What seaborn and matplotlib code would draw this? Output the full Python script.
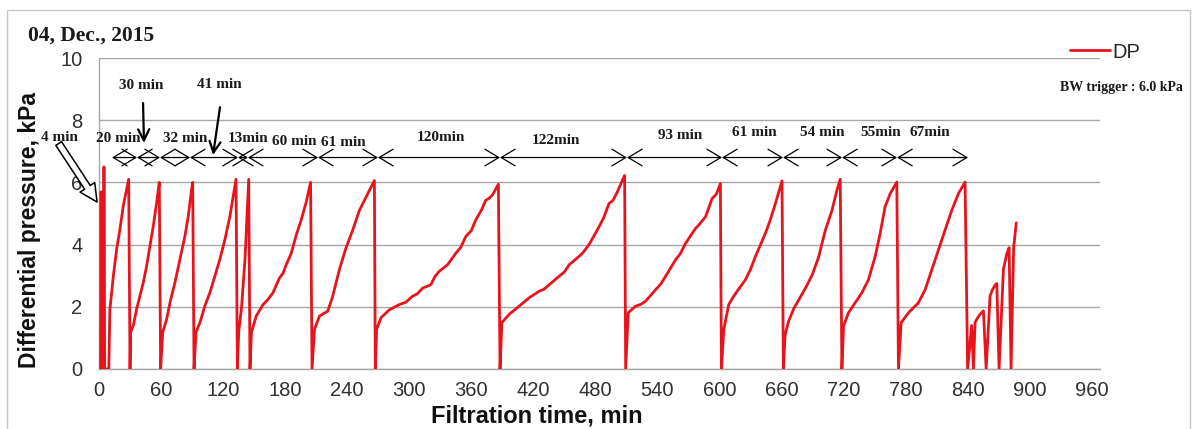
import numpy as np
import pandas as pd
import seaborn as sns
import matplotlib
matplotlib.use("Agg")
import matplotlib.pyplot as plt
from matplotlib.lines import Line2D
from matplotlib.patches import Rectangle

# ---------------- data ----------------
# Differential pressure log (filtration time in min, DP in kPa)
time_min = [
    1.5, 2.0, 2.6, 4.3, 4.8, 5.5, 9.5, 10.5,
    13.9, 17.1, 20.3, 23.5, 26.8, 28.7, 30.0,
    30.6, 33.2, 36.4, 39.7, 42.9, 46.1, 49.3, 52.5, 55.8, 58.3, 59.6,
    61.6, 65.4, 68.7, 73.5, 78.3, 83.2, 86.4, 89.6, 90.6, 91.9,
    93.8, 97.7, 102.5, 107.4, 112.2, 117.0, 121.9, 126.7, 129.9, 132.5, 133.8,
    135.1, 138.0, 141.2, 143.5, 144.8, 146.0,
    147.4, 152.0, 158.6, 163.0, 168.2, 174.6, 178.0, 181.0, 185.9, 190.7, 195.6, 200.4, 204.6, 206.0,
    208.4, 213.2, 217.0, 221.2, 226.0, 232.5, 238.9, 245.4, 251.8, 258.3, 264.7, 266.3, 267.2,
    268.5, 272.7, 280.7, 290.4, 296.8, 303.2, 308.0, 312.9, 320.9, 325.0, 329.0, 337.0, 345.0,
    350.0, 354.7, 360.0, 364.3, 370.0, 374.0, 377.0, 380.4, 386.2, 387.8,
    389.6, 396.7, 406.3, 416.0, 425.6, 430.0, 435.3, 444.9, 450.0, 454.6, 464.2, 468.0, 473.9,
    483.5, 488.0, 493.2, 497.0, 501.2, 506.0, 508.3, 509.3,
    511.8, 518.9, 524.0, 528.6, 538.2, 543.0, 547.9, 557.5, 562.0, 567.2, 576.8, 580.0,
    586.5, 592.9, 597.0, 600.9, 601.9,
    604.2, 609.0, 613.0, 617.1, 625.1, 630.0, 634.8, 644.4, 649.0, 654.1, 657.3, 660.5, 661.8,
    663.5, 667.0, 672.0, 678.0, 684.0, 690.0, 695.9, 702.3, 708.8, 713.6, 716.8, 718.4,
    720.0, 724.8, 731.3, 737.7, 744.1, 750.6, 755.4, 760.2, 765.1, 771.5, 773.1,
    775.7, 782.8, 792.4, 798.9, 805.3, 811.7, 818.2, 824.6, 831.1, 837.5, 840.0,
    843.9, 845.6, 847.2, 851.0, 855.3, 857.9, 861.7, 864.0, 866.6, 868.2, 870.4,
    874.6, 877.8, 880.1, 882.0, 884.5, 887.0,
]
dp_kpa = [
    0.0, 5.70, 0.0, 0.0, 6.50, 0.0, 0.0, 1.90,
    3.00, 3.86, 4.50, 5.25, 5.80, 6.10, 0.0,
    1.18, 1.40, 1.93, 2.36, 2.79, 3.32, 3.97, 4.60, 5.36, 6.00, 0.0,
    1.18, 1.60, 2.14, 2.79, 3.54, 4.29, 4.93, 5.79, 6.00, 0.0,
    1.18, 1.50, 2.04, 2.47, 3.00, 3.54, 4.18, 4.93, 5.57, 6.10, 0.0,
    1.18, 2.04, 3.54, 5.14, 6.10, 0.0,
    1.17, 1.70, 2.07, 2.22, 2.45, 2.93, 3.08, 3.35, 3.72, 4.30, 4.80, 5.37, 6.00, 0.0,
    1.28, 1.70, 1.78, 1.86, 2.34, 3.20, 3.90, 4.47, 5.10, 5.53, 5.96, 6.06, 0.0,
    1.28, 1.65, 1.90, 2.07, 2.15, 2.34, 2.42, 2.60, 2.71, 2.98, 3.14, 3.35, 3.72,
    3.92, 4.26, 4.45, 4.79, 5.12, 5.43, 5.48, 5.59, 5.94, 0.0,
    1.49, 1.76, 2.02, 2.29, 2.50, 2.56, 2.71, 2.98, 3.12, 3.35, 3.62, 3.74, 4.00,
    4.57, 4.86, 5.32, 5.42, 5.69, 6.06, 6.22, 0.0,
    1.81, 2.02, 2.08, 2.18, 2.55, 2.72, 2.98, 3.51, 3.70, 4.04, 4.52, 4.63,
    4.89, 5.48, 5.62, 5.96, 0.0,
    1.28, 2.07, 2.30, 2.50, 2.87, 3.20, 3.62, 4.36, 4.78, 5.32, 5.69, 6.05, 0.0,
    1.10, 1.55, 1.95, 2.30, 2.65, 3.05, 3.60, 4.45, 5.10, 5.75, 6.10, 0.0,
    1.38, 1.81, 2.13, 2.45, 2.87, 3.62, 4.36, 5.22, 5.64, 6.01, 0.0,
    1.49, 1.81, 2.13, 2.55, 3.19, 3.83, 4.47, 5.10, 5.64, 6.01, 0.0,
    1.40, 0.0, 1.50, 1.72, 1.87, 0.0, 2.35, 2.55, 2.70, 2.75, 0.0,
    3.20, 3.70, 3.90, 0.0, 3.90, 4.70,
]

# Backwash interval arrows: boundaries (min) and their labels
interval_edges = [12.6, 36.8, 59.0, 88.0, 134.4, 144.0, 211.8, 269.8,
                  387.8, 510.6, 602.5, 661.5, 718.6, 771.8, 840.4]
interval_labels = ["20 min", "30 min", "32 min", "41 min", "13min", "60 min",
                   "61 min", "120min", "122min", "93 min", "61 min", "54 min",
                   "55min", "67min"]

x_ticks = list(range(0, 961, 60))
y_ticks = [0, 2, 4, 6, 8, 10]

# ---------------- style ----------------
sns.set_theme(style="white")
plt.rcParams["font.family"] = ["Liberation Sans", "DejaVu Sans"]

RED = "#E8141B"
GRID = "#A6A6A6"
SERIF = ["Liberation Serif", "DejaVu Serif"]

W, H = 1200, 429
fig = plt.figure(figsize=(W / 100, H / 100), dpi=100)
fig.patch.set_facecolor("white")
ax = fig.add_axes([99 / W, 1 - 369 / H, (1100 - 99) / W, (369 - 58) / H])

df = pd.DataFrame({"time": time_min, "dp": dp_kpa})
sns.lineplot(data=df, x="time", y="dp", sort=False, estimator=None,
             color=RED, lw=2.0, ax=ax, legend=False, zorder=3)

ax.set_xlim(0, 968)
ax.set_ylim(0, 10)
ax.set_xticks(x_ticks)
ax.set_yticks(y_ticks)
ax.tick_params(axis="both", length=0, labelsize=14.5, colors="#303030")
ax.tick_params(axis="x", pad=9)
ax.tick_params(axis="y", pad=12)
ax.yaxis.grid(True, color=GRID, lw=1)
ax.xaxis.grid(False)
ax.set_xlabel("")
ax.set_ylabel("")
for side in ("top", "right"):
    ax.spines[side].set_visible(False)
for side in ("left", "bottom"):
    ax.spines[side].set_color(GRID)
    ax.spines[side].set_linewidth(1)

# Interval arrows along DP = 6.8 kPa
arrow_y = 6.8
for a, b in zip(interval_edges[:-1], interval_edges[1:]):
    ax.annotate("", xy=(b, arrow_y), xytext=(a, arrow_y),
                arrowprops=dict(arrowstyle="<->,head_length=1.0,head_width=0.6",
                                color="black", lw=0.9, shrinkA=0, shrinkB=0,
                                mutation_scale=10),
                zorder=4)

label_pos = [(18.4, 7.4), (40.6, 9.1), (83.2, 7.4), (116.0, 9.16), (144.0, 7.4),
             (188.6, 7.3), (236.5, 7.27), (331.0, 7.43), (442.0, 7.36),
             (562.0, 7.52), (634.0, 7.59), (699.7, 7.59), (756.0, 7.62), (803.7, 7.59)]
for text, (lx, ly) in zip(interval_labels, label_pos):
    ax.text(lx, ly, text, ha="center", va="center", fontsize=11,
            fontweight="bold", family=SERIF, color="#1a1a1a", zorder=5)

# Pointer arrows for the short intervals
ax.annotate("", xy=(43.5, 7.27), xytext=(42.6, 8.55),
            arrowprops=dict(arrowstyle="->,head_length=0.8,head_width=0.4",
                            color="black", lw=1.6, shrinkA=0, shrinkB=0,
                            mutation_scale=10), annotation_clip=False)
ax.annotate("", xy=(110.3, 6.88), xytext=(117.0, 8.42),
            arrowprops=dict(arrowstyle="->,head_length=0.8,head_width=0.4",
                            color="black", lw=1.6, shrinkA=0, shrinkB=0,
                            mutation_scale=10), annotation_clip=False)
ax.annotate("", xy=(-1.9, 5.37), xytext=(-39.0, 7.25),
            arrowprops=dict(arrowstyle="simple,head_length=0.9,head_width=0.9,tail_width=0.35",
                            fc="white", ec="black", lw=1.1, shrinkA=0, shrinkB=0,
                            mutation_scale=14), annotation_clip=False)
ax.text(-38.0, 7.45, "4 min", ha="center", va="center", fontsize=11,
        fontweight="bold", family=SERIF, color="#1a1a1a")

# Titles and axis labels
fig.text(28 / W, 1 - 36 / H, "04, Dec., 2015", ha="left", va="center",
         fontsize=15.5, fontweight="bold", family=SERIF, color="#1a1a1a")
fig.text(30 / W, 1 - 230 / H, "Differential pressure, kPa", rotation=90,
         ha="center", va="center", fontsize=16.5, fontweight="bold", color="#111111")
fig.text(537 / W, 1 - 416 / H, "Filtration time, min", ha="center", va="center",
         fontsize=17, fontweight="bold", color="#111111")

# Legend and trigger note
handle = Line2D([], [], color=RED, lw=2.0)
fig.legend([handle], ["DP"], loc="center left",
           bbox_to_anchor=(1070 / W, 1 - 52 / H), frameon=False,
           fontsize=14.5, handlelength=2.0, handletextpad=0.1, borderpad=0,
           borderaxespad=0)
fig.text(1060 / W, 1 - 87 / H, "BW trigger : 6.0 kPa", ha="left", va="center",
         fontsize=10, fontweight="bold", family=SERIF, color="#1a1a1a")

# Chart-area border
fig.patches.append(Rectangle((7 / W, -0.01), (1190 - 7) / W, (H - 10) / H + 0.01,
                             transform=fig.transFigure, fill=False,
                             ec="#C8C8C8", lw=1))

fig.savefig("out.png", dpi=100, facecolor="white")
